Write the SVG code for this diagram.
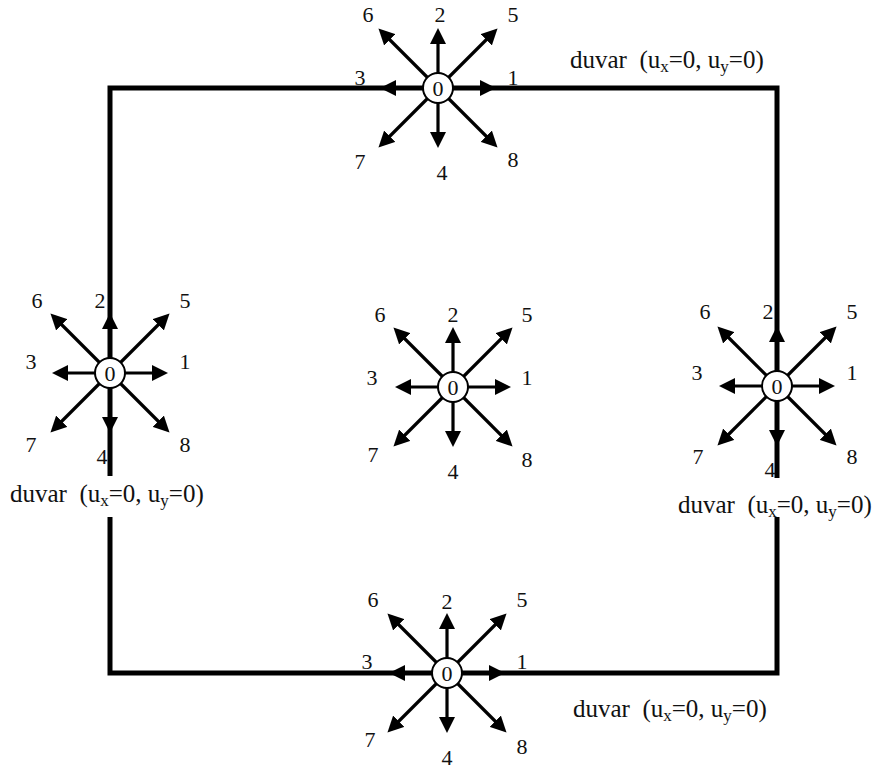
<svg xmlns="http://www.w3.org/2000/svg" width="884" height="772" viewBox="0 0 884 772">
<style>
.wall{fill:none;stroke:#000;stroke-width:5;stroke-linejoin:miter}
.ar{stroke:#000;stroke-width:3.2;fill:none;marker-end:url(#ah)}
.c{fill:#fff;stroke:#000;stroke-width:2}
.n{font-family:"Liberation Serif","Times New Roman",serif;font-size:22px;fill:#111;text-anchor:middle}
.z{font-family:"Liberation Serif","Times New Roman",serif;font-size:22px;fill:#111;text-anchor:middle}
.lbl{font-family:"Liberation Serif","Times New Roman",serif;font-size:25px;fill:#111;white-space:pre}
.sub{font-size:17px}
</style>
<defs>
<marker id="ah" viewBox="0 0 16 16" refX="11" refY="8" markerWidth="16" markerHeight="16" markerUnits="userSpaceOnUse" orient="auto">
<path d="M0,0 L16,8 L0,16 z" fill="#000"/>
</marker>
<g id="star">
<line class="ar" x1="0" y1="0" x2="53" y2="0"/>
<line class="ar" x1="0" y1="0" x2="0" y2="-55"/>
<line class="ar" x1="0" y1="0" x2="-53" y2="0"/>
<line class="ar" x1="0" y1="0" x2="0" y2="55"/>
<line class="ar" x1="0" y1="0" x2="56" y2="-56"/>
<line class="ar" x1="0" y1="0" x2="-56" y2="-56"/>
<line class="ar" x1="0" y1="0" x2="-56" y2="56"/>
<line class="ar" x1="0" y1="0" x2="56" y2="56"/>
<circle class="c" r="15" cx="0" cy="0"/>
</g>
</defs>
<g id="walls">
<path class="wall" d="M110,476 V88 H777 V478 M777,517 V673 H110 V517"/>
</g>
<g id="wall-labels">
<text class="lbl" x="570" y="68">duvar  (u<tspan class="sub" dy="4">x</tspan><tspan dy="-4">=0, u</tspan><tspan class="sub" dy="4">y</tspan><tspan dy="-4">=0)</tspan></text>
<text class="lbl" x="10" y="502">duvar  (u<tspan class="sub" dy="4">x</tspan><tspan dy="-4">=0, u</tspan><tspan class="sub" dy="4">y</tspan><tspan dy="-4">=0)</tspan></text>
<text class="lbl" x="678" y="513">duvar  (u<tspan class="sub" dy="4">x</tspan><tspan dy="-4">=0, u</tspan><tspan class="sub" dy="4">y</tspan><tspan dy="-4">=0)</tspan></text>
<text class="lbl" x="573" y="717">duvar  (u<tspan class="sub" dy="4">x</tspan><tspan dy="-4">=0, u</tspan><tspan class="sub" dy="4">y</tspan><tspan dy="-4">=0)</tspan></text>
</g>
<g id="node-top" transform="translate(438,88)">
<use href="#star"/>
<text class="z" x="0" y="8">0</text>
<text class="n" x="-70" y="-66">6</text>
<text class="n" x="2" y="-66">2</text>
<text class="n" x="75" y="-66">5</text>
<text class="n" x="-78" y="-3">3</text>
<text class="n" x="75" y="-3">1</text>
<text class="n" x="-78" y="81">7</text>
<text class="n" x="4" y="92">4</text>
<text class="n" x="75" y="79">8</text>
</g>
<g id="node-center" transform="translate(453,387)">
<use href="#star"/>
<text class="z" x="0" y="8">0</text>
<text class="n" x="-73" y="-65">6</text>
<text class="n" x="0" y="-65">2</text>
<text class="n" x="74" y="-65">5</text>
<text class="n" x="-81" y="-2">3</text>
<text class="n" x="74" y="-2">1</text>
<text class="n" x="-80" y="75">7</text>
<text class="n" x="0" y="92">4</text>
<text class="n" x="74" y="80">8</text>
</g>
<g id="node-left" transform="translate(110,373)">
<use href="#star"/>
<text class="z" x="0" y="8">0</text>
<text class="n" x="-73" y="-65">6</text>
<text class="n" x="-10" y="-65">2</text>
<text class="n" x="75" y="-65">5</text>
<text class="n" x="-79" y="-4">3</text>
<text class="n" x="75" y="-4">1</text>
<text class="n" x="-79" y="79">7</text>
<text class="n" x="-8" y="91">4</text>
<text class="n" x="75" y="79">8</text>
</g>
<g id="node-right" transform="translate(777,386)">
<use href="#star"/>
<text class="z" x="0" y="8">0</text>
<text class="n" x="-72" y="-67">6</text>
<text class="n" x="-9" y="-67">2</text>
<text class="n" x="75" y="-67">5</text>
<text class="n" x="-80" y="-6">3</text>
<text class="n" x="75" y="-6">1</text>
<text class="n" x="-79" y="78">7</text>
<text class="n" x="-7" y="91">4</text>
<text class="n" x="75" y="78">8</text>
</g>
<g id="node-bottom" transform="translate(447,673)">
<use href="#star"/>
<text class="z" x="0" y="8">0</text>
<text class="n" x="-74" y="-66">6</text>
<text class="n" x="0" y="-64">2</text>
<text class="n" x="75" y="-66">5</text>
<text class="n" x="-80" y="-4">3</text>
<text class="n" x="75" y="-4">1</text>
<text class="n" x="-77" y="74">7</text>
<text class="n" x="0" y="92">4</text>
<text class="n" x="75" y="81">8</text>
</g>
</svg>
